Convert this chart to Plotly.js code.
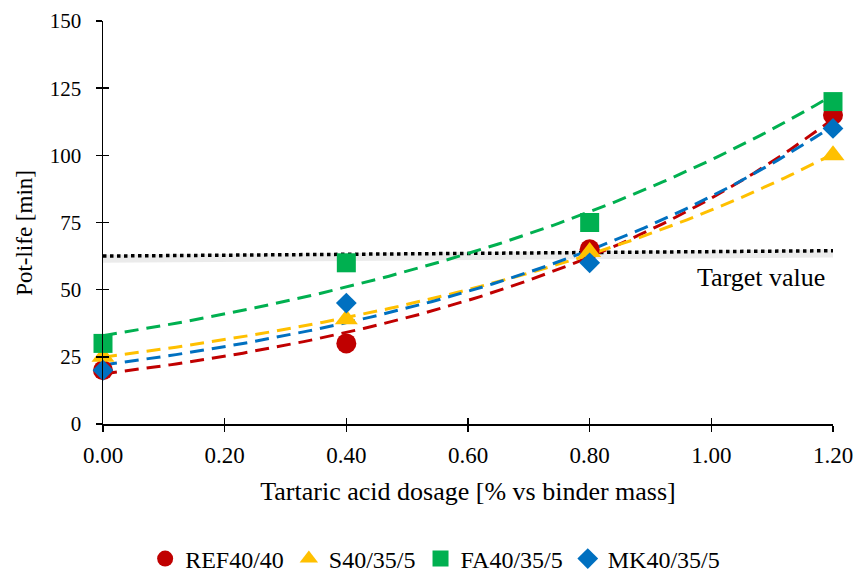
<!DOCTYPE html>
<html>
<head>
<meta charset="utf-8">
<script src="https://cdn.plot.ly/plotly-3.0.1.min.js"></script>
<style>html,body{margin:0;padding:0;background:#fff;}#chart{width:856px;height:572px;}</style>
</head>
<body>
<div id="chart"></div>
<script>
// Data
const dosage = [0.0, 0.4, 0.8, 1.2];
const seriesNames = ["REF40/40", "S40/35/5", "FA40/35/5", "MK40/35/5"];
const ref40 = [20, 30, 65, 115];
const s40 = [25, 39, 64, 100];
const fa40 = [30, 60, 75, 120];
const mk40 = [20, 45, 60, 110];
const targetX = [0.0, 1.2];
const targetY = [62.5, 64.5];
const xTicks = [0, 0.2, 0.4, 0.6, 0.8, 1.0, 1.2];
const xTickText = ["0.00", "0.20", "0.40", "0.60", "0.80", "1.00", "1.20"];
const yTicks = [0, 25, 50, 75, 100, 125, 150];

const colors = ["#C00000", "#FFC000", "#00B050", "#0070C0"];
const symbols = ["circle", "triangle-up", "square", "diamond"];
const markerSizes = [20, 20, 19, 16];
const allSeries = [ref40, s40, fa40, mk40];

// Exponential least-squares trendline (as in the spreadsheet)
function expFit(xs, ys) {
  const n = xs.length;
  const ly = ys.map(v => Math.log(v));
  const mx = xs.reduce((a, b) => a + b, 0) / n;
  const my = ly.reduce((a, b) => a + b, 0) / n;
  let sxy = 0, sxx = 0;
  for (let i = 0; i < n; i++) { sxy += (xs[i] - mx) * (ly[i] - my); sxx += (xs[i] - mx) ** 2; }
  const b = sxy / sxx;
  const a = Math.exp(my - b * mx);
  return x => a * Math.exp(b * x);
}
const gridX = [];
for (let i = 0; i <= 120; i++) gridX.push(i * 0.01);

const traces = [];
// target line shadow + line
traces.push({x: targetX, y: targetY.map(v => v - 1.0), mode: 'lines', line: {color: 'rgba(0,0,0,0.08)', width: 8}, showlegend: false, hoverinfo: 'skip', cliponaxis: false});
traces.push({x: targetX, y: targetY, mode: 'lines', line: {color: '#000', width: 3.5, dash: '3.5px,3.5px'}, showlegend: false, hoverinfo: 'skip', cliponaxis: false});
// trendlines
allSeries.forEach((ys, i) => {
  const f = expFit(dosage, ys);
  traces.push({x: gridX, y: gridX.map(f), mode: 'lines', line: {color: colors[i], width: 3, dash: '14px,8px'}, showlegend: false, hoverinfo: 'skip', cliponaxis: false});
});
// markers
allSeries.forEach((ys, i) => {
  traces.push({x: dosage, y: ys, name: seriesNames[i], mode: 'markers', cliponaxis: false,
    marker: {color: colors[i], symbol: symbols[i], size: markerSizes[i], line: {width: 0}}});
});
// invisible trace for inner ticks axes
traces.push({x: [0], y: [0], xaxis: 'x2', yaxis: 'y2', mode: 'markers', marker: {opacity: 0}, showlegend: false, hoverinfo: 'skip'});

const font = {family: 'Liberation Serif', color: '#000'};
const layout = {
  width: 856, height: 572,
  margin: {l: 103, r: 23, t: 21, b: 148, autoexpand: false},
  paper_bgcolor: '#fff', plot_bgcolor: '#fff',
  font: Object.assign({size: 22}, font),
  xaxis: {range: [0, 1.2], tickvals: xTicks, ticktext: xTickText, showgrid: false, zeroline: false, automargin: false,
    showline: true, linecolor: '#000', linewidth: 1.5, ticks: 'outside', ticklen: 6, tickwidth: 1.5, tickcolor: '#000',
    tickfont: Object.assign({size: 23}, font), ticklabelstandoff: 4,
    title: {text: 'Tartaric acid dosage [% vs binder mass]', font: Object.assign({size: 26}, font), standoff: 14}},
  yaxis: {range: [0, 150], tickvals: yTicks, showgrid: false, zeroline: false, automargin: false,
    showline: true, linecolor: '#000', linewidth: 1.5, ticks: 'outside', ticklen: 6, tickwidth: 1.5, tickcolor: '#000',
    tickfont: Object.assign({size: 21}, font), ticklabelstandoff: 10},
  xaxis2: {range: [0, 1.2], tickvals: xTicks, overlaying: 'x', anchor: 'y2', side: 'bottom', showgrid: false, zeroline: false, automargin: false,
    showline: false, ticks: 'inside', ticklen: 6, tickwidth: 1.5, tickcolor: '#000', showticklabels: false},
  yaxis2: {range: [0, 150], tickvals: yTicks, overlaying: 'y', anchor: 'x2', side: 'left', showgrid: false, zeroline: false, automargin: false,
    showline: false, ticks: 'inside', ticklen: 6, tickwidth: 1.5, tickcolor: '#000', showticklabels: false},
  legend: {orientation: 'h', x: 0.455, xanchor: 'center', y: -0.335, yanchor: 'middle',
    font: Object.assign({size: 24}, font), itemwidth: 30, tracegroupgap: 0},
  annotations: [
    {x: 1.081, y: 54.7, xref: 'x', yref: 'y', text: 'Target value', showarrow: false,
      font: Object.assign({size: 26}, font)},
    {x: -0.107, y: 0.474, xref: 'paper', yref: 'paper', text: 'Pot-life [min]', textangle: -90, showarrow: false,
      xanchor: 'center', yanchor: 'middle', font: Object.assign({size: 23}, font)}
  ],
  showlegend: true
};
Plotly.newPlot('chart', traces, layout, {displayModeBar: false, staticPlot: true});
</script>
</body>
</html>
